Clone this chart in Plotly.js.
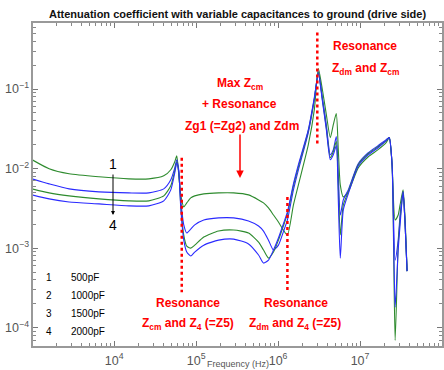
<!DOCTYPE html>
<html><head><meta charset="utf-8">
<script src="https://cdn.plot.ly/plotly-3.0.1.min.js"></script>
<style>html,body{margin:0;padding:0;background:#fff}#chart{width:444px;height:370px}</style>
</head><body><div id="chart"></div>
<script>
// Frequency (Hz)
const freq = [1000,1610,2820,6530,15100,26500,40300,49100,54900,58100,61400,65000,70700,76900,86000,96200,124000,188000,287000,436000,578000,664000,764000,879000,1010000,1160000,1300000,1540000,1770000,2340000,2770000,3100000,3470000,3880000,4340000,4720000,5130000,5430000,5740000,6250000,7180000,9500000,12600000,16600000,20800000,22700000,24600000,26800000,29200000,30800000,33500000,35500000,37500000];
// Attenuation coefficient per capacitance
const c500 = [1.29e-2,9.95e-3,8.60e-3,7.88e-3,7.43e-3,7.43e-3,8.11e-3,9.66e-3,1.22e-2,1.45e-2,8.35e-3,4.67e-3,3.30e-3,3.70e-3,4.28e-3,4.54e-3,4.81e-3,4.95e-3,4.95e-3,4.67e-3,4.04e-3,3.70e-3,3.20e-3,2.61e-3,2.13e-3,1.69e-3,1.46e-3,3.49e-3,6.25e-3,2.00e-2,5.52e-2,1.81e-1,9.86e-2,4.77e-2,2.45e-2,3.56e-2,4.91e-2,1.73e-2,6.25e-3,4.41e-3,5.10e-3,1.02e-2,1.41e-2,1.73e-2,2.12e-2,2.45e-2,1.12e-2,2.26e-3,2.61e-3,3.49e-3,5.40e-3,2.26e-3,5.14e-4];
const c1000 = [7.43e-3,6.43e-3,5.56e-3,5.10e-3,4.95e-3,4.95e-3,5.56e-3,7.22e-3,1.02e-2,1.29e-2,9.66e-3,4.04e-3,1.96e-3,1.55e-3,1.74e-3,1.96e-3,2.26e-3,2.40e-3,2.40e-3,2.20e-3,1.90e-3,1.64e-3,1.26e-3,9.46e-4,1.09e-3,1.60e-3,2.26e-3,5.40e-3,9.66e-3,2.83e-2,7.38e-2,1.66e-1,7.82e-2,3.56e-2,1.49e-2,1.73e-2,2.52e-2,8.35e-3,2.61e-3,4.04e-3,5.40e-3,1.15e-2,1.58e-2,1.94e-2,2.31e-2,2.45e-2,1.12e-2,7.08e-4,1.26e-3,2.61e-3,5.10e-3,1.96e-3,5.14e-4];
const c1500 = [5.56e-3,4.95e-3,4.54e-3,4.16e-3,3.93e-3,3.93e-3,4.54e-3,6.07e-3,9.38e-3,1.22e-2,9.12e-3,3.49e-3,1.46e-3,1.06e-3,1.00e-3,1.09e-3,1.38e-3,1.64e-3,1.69e-3,1.55e-3,1.19e-3,9.46e-4,7.50e-4,8.93e-4,1.26e-3,1.90e-3,2.69e-3,6.07e-3,1.05e-2,3.00e-2,7.59e-2,1.61e-1,7.38e-2,3.27e-2,1.37e-2,1.63e-2,2.18e-2,6.25e-3,1.46e-3,3.49e-3,5.10e-3,1.12e-2,1.54e-2,1.88e-2,2.24e-2,2.45e-2,1.12e-2,6.93e-5,1.09e-3,2.26e-3,5.10e-3,1.96e-3,5.14e-4];
const c2000 = [4.67e-3,4.16e-3,3.81e-3,3.60e-3,3.40e-3,3.40e-3,3.93e-3,5.40e-3,8.85e-3,1.18e-2,9.12e-3,3.20e-3,1.26e-3,8.93e-4,7.95e-4,8.93e-4,1.09e-3,1.26e-3,1.30e-3,1.13e-3,8.19e-4,6.49e-4,7.08e-4,9.46e-4,1.34e-3,2.01e-3,2.85e-3,6.43e-3,1.12e-2,3.08e-2,7.82e-2,1.57e-1,7.16e-2,3.08e-2,1.29e-2,1.49e-2,1.94e-2,4.04e-3,7.50e-4,3.02e-3,4.81e-3,1.08e-2,1.49e-2,1.83e-2,2.24e-2,2.45e-2,1.12e-2,1.81e-4,9.46e-4,1.96e-3,5.10e-3,1.96e-3,5.14e-4];
const seriesNames = ['500pF','1000pF','1500pF','2000pF'];
const seriesNums = ['1','2','3','4'];
// Resonance marker lines (frequency, from value, to value)
const resFreq = [66800, 1300000, 3010000];
const resFrom = [1.37e-2, 4.41e-3, 0.515];
const resTo = [2.79e-4, 2.79e-4, 2.00e-2];

const green = '#2e8b2e', blue = '#2a2aff';
const colors = [green, blue, green, blue];
const vals = [c500, c1000, c1500, c2000];
const traces = vals.map((v,i)=>({x:freq,y:v,type:'scatter',mode:'lines',name:seriesNames[i],
  line:{color:colors[i],width:1.1,shape:'spline',smoothing:0.6},showlegend:false,hoverinfo:'skip'}));
resFreq.forEach((f,i)=>traces.push({x:[f,f],y:[resFrom[i],resTo[i]],type:'scatter',mode:'lines',
  line:{color:'#ff0000',width:2.5,dash:'dot'},showlegend:false,hoverinfo:'skip'}));

const L=33, T=23, W=409, H=323;
const px = x => (x-L)/W, py = y => (T+H-y)/H;
const red = {family:'Liberation Sans, Arial, sans-serif',size:12,color:'#ff0000'};
const blk = {family:'Liberation Sans, Arial, sans-serif',size:10,color:'#000'};
function A(x,y,text,font,extra){return Object.assign({xref:'paper',yref:'paper',x:px(x),y:py(y),text:text,showarrow:false,font:font,xanchor:'center',yanchor:'middle'},extra||{});}
const ann = [
  A(365,46,'<b>Resonance</b>',red), A(365,69,'<b>Z<sub>dm</sub> and Z<sub>cm</sub></b>',red),
  A(240,84,'<b>Max Z<sub>cm</sub></b>',red), A(240,104,'<b>+ Resonance</b>',red), A(242,126,'<b>Zg1 (=Zg2) and Zdm</b>',red),
  A(188,303,'<b>Resonance</b>',red), A(188,324,'<b>Z<sub>cm</sub> and Z<sub>4</sub> (=Z5)</b>',red),
  A(296,303,'<b>Resonance</b>',red), A(295,324,'<b>Z<sub>dm</sub> and Z<sub>4</sub> (=Z5)</b>',red),
  {xref:'paper',yref:'paper',x:px(240),y:py(178),ax:0,ay:-45,text:'',showarrow:true,arrowhead:2,arrowsize:1,arrowwidth:1.5,arrowcolor:'#ff0000'},
  {xref:'paper',yref:'paper',x:px(113),y:py(215),ax:0,ay:-42,text:'',showarrow:true,arrowhead:2,arrowsize:0.8,arrowwidth:1,arrowcolor:'#000'},
  A(113,164,'1',Object.assign({},blk,{size:14})), A(113,225,'4',Object.assign({},blk,{size:14})),
  A(238,364,'Frequency (Hz)',{family:'Liberation Sans, Arial, sans-serif',size:9,color:'#555'})
];
seriesNums.forEach((n,i)=>{
  ann.push(A(49,277+i*18,n,blk));
  ann.push(A(69,277+i*18,seriesNames[i],blk,{xanchor:'left'}));
});

const axBase = {type:'log',showline:true,linecolor:'#999',linewidth:2,mirror:'ticks',ticks:'inside',ticklen:5,tickcolor:'#777',
  dtick:1,exponentformat:'power',showgrid:false,zeroline:false,tickfont:{family:'Liberation Sans, Arial, sans-serif',size:10,color:'#555'},
  minor:{ticks:'inside',ticklen:3,tickcolor:'#888',showgrid:false}};
const layout = {
  width:444,height:370,margin:{l:L,r:2,t:T,b:24},paper_bgcolor:'#fff',plot_bgcolor:'#fff',
  title:{text:'<b>Attenuation coefficient with variable capacitances to ground (drive side)</b>',x:0.535,y:0.963,xanchor:'center',yanchor:'middle',
    font:{family:'Liberation Sans, Arial, sans-serif',size:11,color:'#111'}},
  xaxis:Object.assign({},axBase,{range:[3.01,8],ticklabelstandoff:2}),
  yaxis:Object.assign({},axBase,{range:[-4.23,-0.17]}),
  annotations:ann, showlegend:false
};
Plotly.newPlot('chart',traces,layout,{displayModeBar:false,staticPlot:true});
</script></body></html>
